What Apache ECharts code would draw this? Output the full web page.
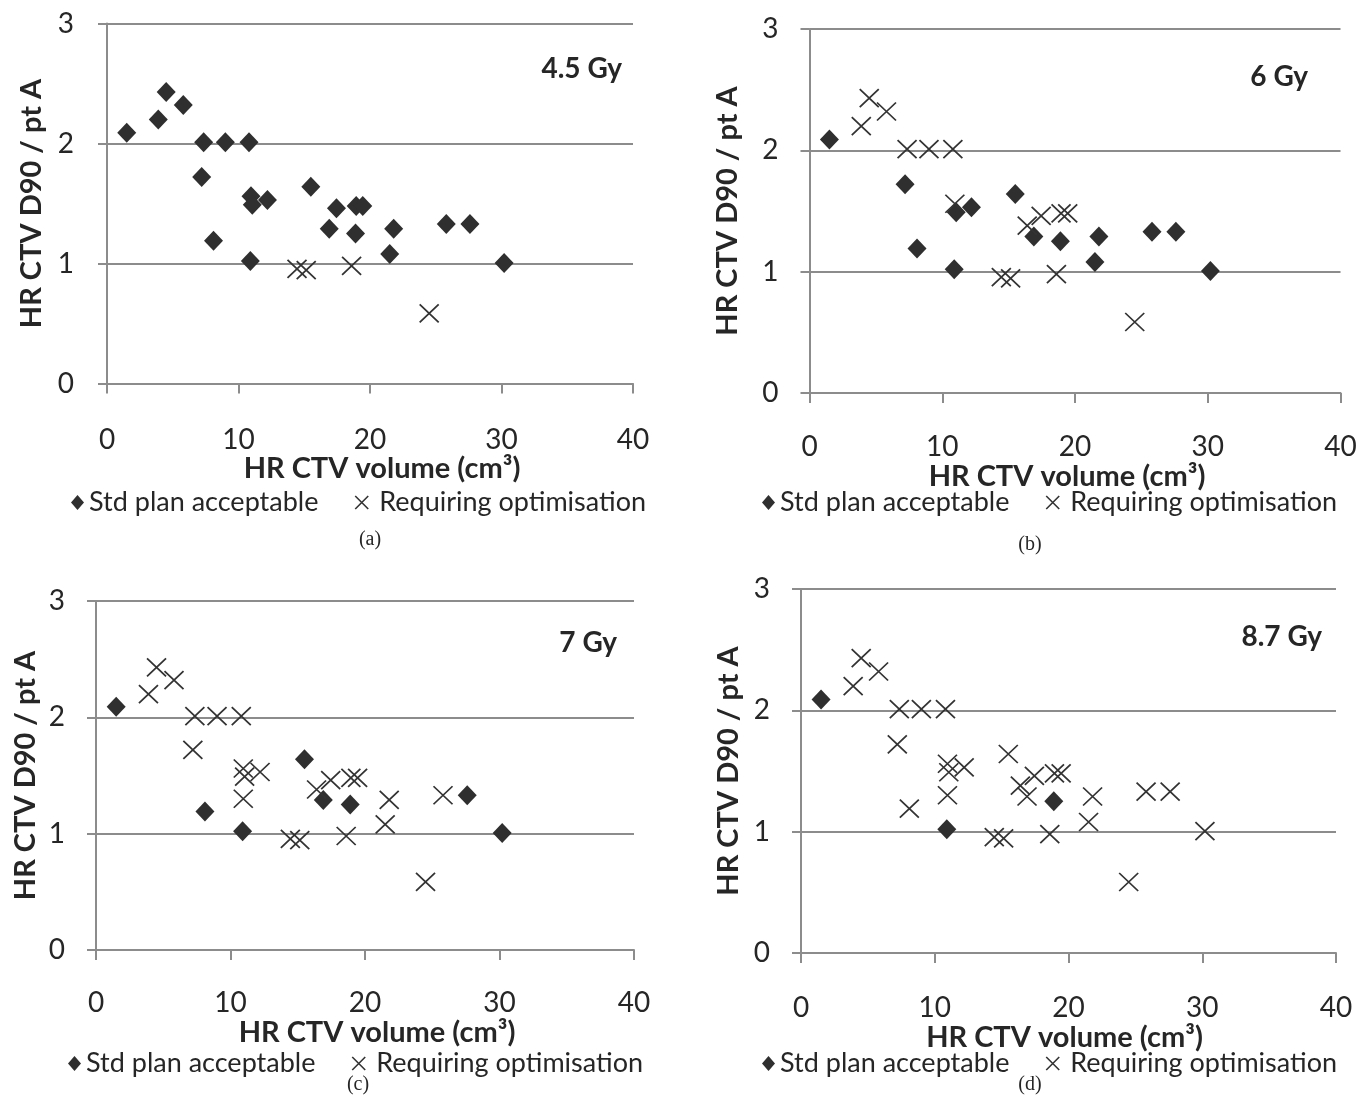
<!DOCTYPE html>
<html>
<head>
<meta charset="utf-8">
<script src="https://cdn.jsdelivr.net/npm/echarts@6/dist/echarts.min.js"></script>
<style>
html,body{margin:0;padding:0;background:#fff;}
#chart{width:1369px;height:1114px;}
</style>
</head>
<body>
<div id="chart"></div>
<script>
// ---- data ----
const volume = [1.5, 3.9, 4.5, 5.8, 7.35, 9.0, 10.8, 7.2, 10.95, 11.05, 12.2, 10.95, 8.1, 10.9, 15.5, 16.4, 17.45, 18.95, 19.45, 16.9, 18.9, 21.8, 21.5, 25.8, 27.6, 30.2, 14.45, 15.15, 18.6, 24.5];
const ratio  = [2.09, 2.20, 2.43, 2.32, 2.01, 2.01, 2.01, 1.72, 1.56, 1.49, 1.53, 1.30, 1.19, 1.02, 1.64, 1.38, 1.46, 1.48, 1.48, 1.29, 1.25, 1.29, 1.08, 1.33, 1.33, 1.005, 0.955, 0.945, 0.98, 0.585];
// S = Std plan acceptable, R = Requiring optimisation, '' = not shown
const statusA = ['S','S','S','S','S','S','S','S','S','S','S','', 'S','S','S','', 'S','S','S','S','S','S','S','S','S','S','R','R','R','R'];
const statusB = ['S','R','R','R','R','R','R','S','R','S','S','', 'S','S','S','R','R','R','R','S','S','S','S','S','S','S','R','R','R','R'];
const statusC = ['S','R','R','R','R','R','R','R','R','R','R','R','S','S','S','R','R','R','R','S','S','R','R','R','S','S','R','R','R','R'];
const statusD = ['S','R','R','R','R','R','R','R','R','R','R','R','R','S','R','R','R','R','R','R','S','R','R','R','R','R','R','R','R','R'];
const doses = ['4.5 Gy', '6 Gy', '7 Gy', '8.7 Gy'];
const captions = ['(a)', '(b)', '(c)', '(d)'];
const xTickMin = 0, xTickMax = 40, xTickStep = 10;
const yTickMin = 0, yTickMax = 3, yTickStep = 1;
const stdName = 'Std plan acceptable';
const reqName = 'Requiring optimisation';
const xName = 'HR CTV volume (cm\u00B3)';
const yName = 'HR CTV D90 / pt A';

// ---- layout ----
const layouts = [
  {grid:{left:107, top:23.5, width:526, height:360}, xLabelMargin:42, xNameGap:67, xShift:24, yLabelMargin:33, yNameGap:61,
   dose:{right:747, top:55}, legend:{left:71, top:489}, cap:{left:370, top:530}},
  {grid:{left:809.5, top:29, width:531, height:364}, xLabelMargin:40, xNameGap:64, xShift:-16, yLabelMargin:31, yNameGap:67,
   dose:{right:61, top:63}, legend:{left:762, top:489}, cap:{left:1030, top:535}},
  {grid:{left:96, top:601, width:538, height:349}, xLabelMargin:39, xNameGap:65, xShift:24, yLabelMargin:31, yNameGap:56,
   dose:{right:752, top:629}, legend:{left:68, top:1050}, cap:{left:358, top:1075}},
  {grid:{left:801, top:589, width:535, height:364}, xLabelMargin:41, xNameGap:63, xShift:-8, yLabelMargin:31, yNameGap:58,
   dose:{right:47, top:623}, legend:{left:762, top:1050}, cap:{left:1030, top:1075}}
];
const statuses = [statusA, statusB, statusC, statusD];

const axisGray = '#8c8c8c';
const inkColor = '#262626';
const markColor = '#2f2f2f';
const xPath = 'path://M0,0L20,20M20,0L0,20';

const series = [];
statuses.forEach((st, i) => {
  const std = [], req = [];
  st.forEach((s, k) => {
    if (s === 'S') std.push([volume[k], ratio[k]]);
    else if (s === 'R') req.push([volume[k], ratio[k]]);
  });
  series.push({
    name: stdName, type: 'scatter', xAxisIndex: i, yAxisIndex: i,
    symbol: 'diamond', symbolSize: [19, 20],
    itemStyle: {color: markColor, opacity: 1},
    data: std, z: 2
  });
  series.push({
    name: reqName, type: 'scatter', xAxisIndex: i, yAxisIndex: i,
    symbol: xPath, symbolSize: [19, 18],
    itemStyle: {color: 'transparent', borderColor: '#333', borderWidth: 1.7, opacity: 1},
    data: req, z: 3
  });
});

const titles = [];
layouts.forEach((l, i) => {
  titles.push({text: doses[i], right: l.dose.right, top: l.dose.top, padding: 0,
    textStyle: {fontFamily: 'Lato', fontWeight: 'bold', fontSize: 28, color: inkColor}});
  titles.push({text: captions[i], left: l.cap.left, top: l.cap.top, padding: 0, textAlign: 'center',
    textStyle: {fontFamily: 'Liberation Serif', fontWeight: 'normal', fontSize: 20, color: inkColor}});
});

const option = {
  animation: false,
  backgroundColor: '#ffffff',
  textStyle: {fontFamily: 'Lato'},
  title: titles,
  grid: layouts.map(l => Object.assign({containLabel: false}, l.grid)),
  xAxis: layouts.map((l, i) => ({
    gridIndex: i, type: 'value', min: xTickMin, max: xTickMax, interval: xTickStep,
    name: xName, nameLocation: 'middle', nameGap: l.xNameGap,
    nameTextStyle: {fontFamily: 'Lato', fontSize: 29, fontWeight: 'bold', color: inkColor, padding: [0, 0, 0, l.xShift]},
    axisLine: {show: true, onZero: false, lineStyle: {color: axisGray, width: 2}},
    axisTick: {show: true, inside: false, length: 10, lineStyle: {color: axisGray, width: 2}},
    axisLabel: {margin: l.xLabelMargin, fontSize: 28, color: inkColor, fontFamily: 'Lato'},
    splitLine: {show: false}
  })),
  yAxis: layouts.map((l, i) => ({
    gridIndex: i, type: 'value', min: yTickMin, max: yTickMax, interval: yTickStep,
    name: yName, nameLocation: 'middle', nameGap: l.yNameGap, nameRotate: 90,
    nameTextStyle: {fontFamily: 'Lato', fontSize: 29, fontWeight: 'bold', color: inkColor},
    axisLine: {show: true, onZero: false, lineStyle: {color: axisGray, width: 2}},
    axisTick: {show: true, inside: false, length: 9, lineStyle: {color: axisGray, width: 2}},
    axisLabel: {margin: l.yLabelMargin, fontSize: 28, color: inkColor, fontFamily: 'Lato'},
    splitLine: {show: true, lineStyle: {color: axisGray, width: 2}}
  })),
  legend: layouts.map(l => ({
    left: l.legend.left, top: l.legend.top, orient: 'horizontal', padding: 0,
    itemWidth: 13, itemHeight: 15, itemGap: 36, selectedMode: false,
    textStyle: {fontFamily: 'Lato', fontSize: 27, color: inkColor},
    data: [
      {name: stdName, icon: 'diamond', itemStyle: {color: markColor}},
      {name: reqName, icon: xPath, itemStyle: {color: 'transparent', borderColor: '#333', borderWidth: 1.6},
       textStyle: {fontFamily: 'Lato', fontSize: 27, color: inkColor, padding: [0, 0, 0, 6]}}
    ]
  })),
  series: series
};

const chart = echarts.init(document.getElementById('chart'), null, {renderer: 'canvas'});
chart.setOption(option);
</script>
</body>
</html>
